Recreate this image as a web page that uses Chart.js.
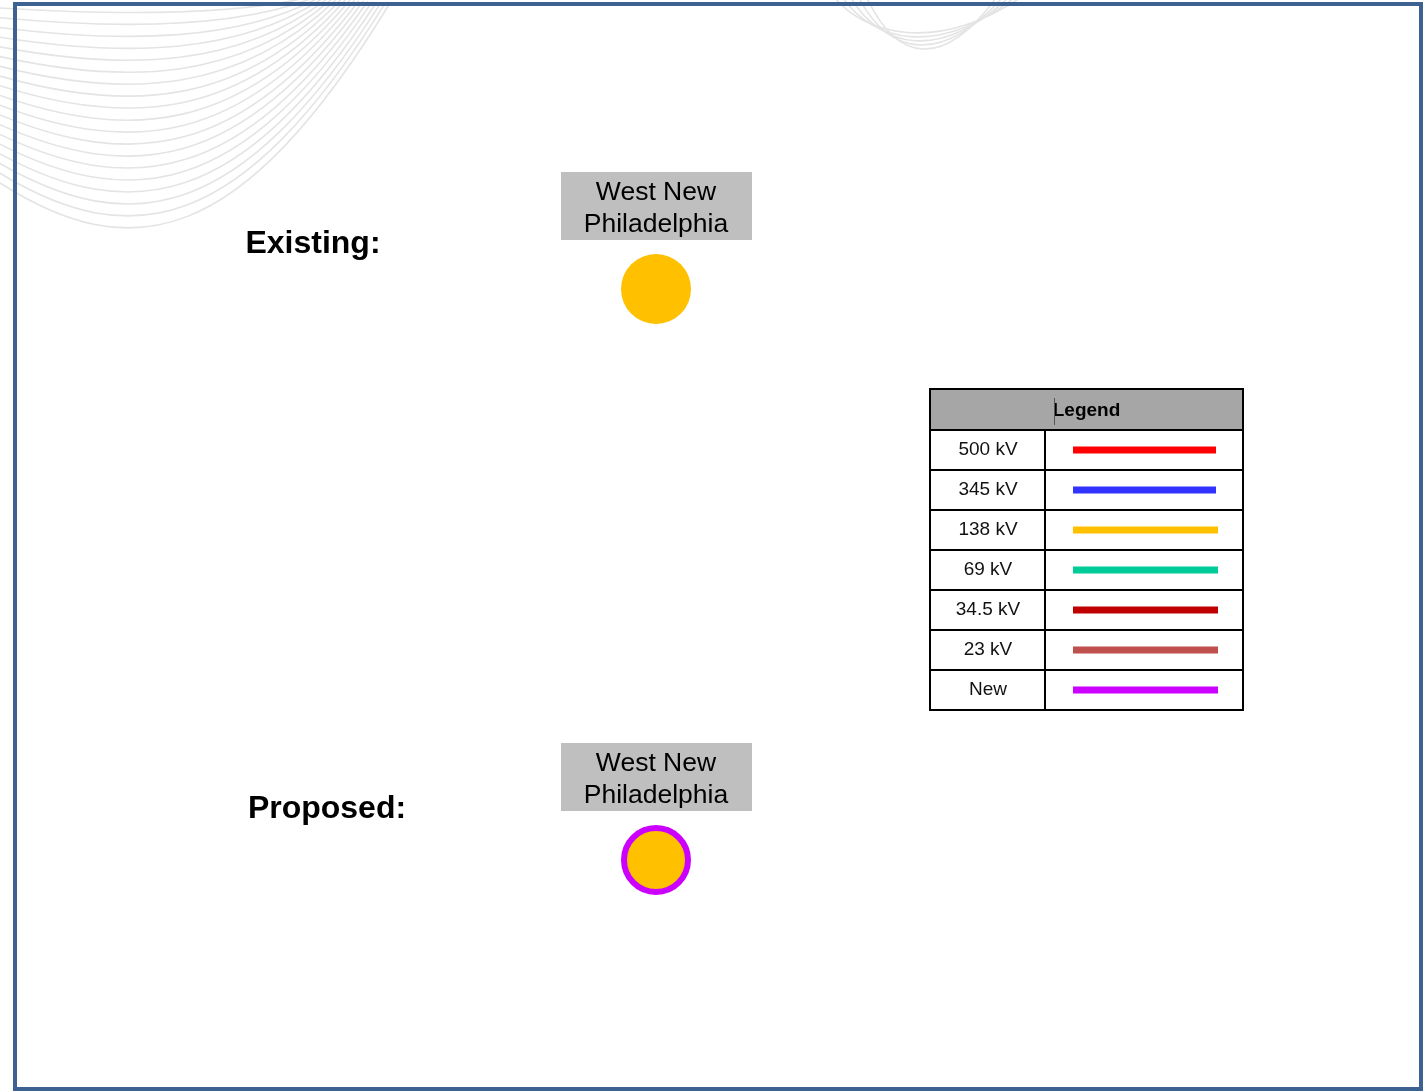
<!DOCTYPE html>
<html lang="en">
<head>
  <meta charset="UTF-8" />
  <title>West New Philadelphia</title>
  <script src="https://cdn.jsdelivr.net/npm/chart.js"></script>
  <style>
    html, body { margin: 0; padding: 0; background: #ffffff; }
    canvas { display: block; }
  </style>
</head>
<body>
  <canvas id="diagram" width="1424" height="1091"></canvas>

  <script>
    // station data (diagram units = page pixels)
    const stationNames = ["West New\nPhiladelphia", "West New\nPhiladelphia"];
    const stationX = [656, 656];
    const stationY = [289, 860];
    const sectionTitles = ["Existing:", "Proposed:"];
    const sectionTitleX = [313, 327];
    const sectionTitleY = [243, 808];

    // legend table
    const legendLabels = ["500 kV", "345 kV", "138 kV", "69 kV", "34.5 kV", "23 kV", "New"];
    const legendColors = ["#FF0000", "#3333FF", "#FFC000", "#00CC99", "#C00000", "#C0504D", "#CC00FF"];

    const frameColor = "#3D6191";
    const waveColor = "#E4E4E4";

    // background waves + blue frame
    const backdrop = {
      id: "backdrop",
      beforeDraw(chart) {
        const ctx = chart.ctx;
        const x = chart.scales.x, y = chart.scales.y;
        const px = v => x.getPixelForValue(v);
        const py = v => y.getPixelForValue(v);
        ctx.save();
        ctx.strokeStyle = waveColor;
        ctx.lineWidth = 1.6;
        // fan of curves in the top-left corner
        for (let i = 0; i < 19; i++) {
          const t = i / 18;
          ctx.beginPath();
          ctx.moveTo(px(0), py(8 + t * 175));
          ctx.bezierCurveTo(px(130), py(16 + t * 250), px(240), py(14 + t * 235), px(310 + t * 80), py(-3 + t * 6));
          ctx.stroke();
        }
        // bowls at the top center
        for (let i = 0; i < 5; i++) {
          ctx.beginPath();
          ctx.moveTo(px(835 + i * 8), py(-2));
          ctx.bezierCurveTo(px(865 + i * 8), py(34 + i * 7), px(935 + i * 2), py(54 + i * 4), px(1020 - i * 6), py(-2));
          ctx.stroke();
        }
        ctx.restore();
      },
      afterDraw(chart) {
        const ctx = chart.ctx;
        ctx.save();
        ctx.strokeStyle = frameColor;
        ctx.lineWidth = 4;
        ctx.strokeRect(15, 4, 1406, 1085);
        ctx.restore();
      }
    };

    // titles, station name boxes, legend table
    const annotations = {
      id: "annotations",
      afterDatasetsDraw(chart) {
        const ctx = chart.ctx;
        const x = chart.scales.x, y = chart.scales.y;
        const px = v => x.getPixelForValue(v);
        const py = v => y.getPixelForValue(v);
        ctx.save();

        // section titles
        ctx.fillStyle = "#000000";
        ctx.font = "bold 32px 'Liberation Sans', Arial, sans-serif";
        ctx.textAlign = "center";
        ctx.textBaseline = "middle";
        sectionTitles.forEach((t, i) => ctx.fillText(t, px(sectionTitleX[i]), py(sectionTitleY[i]) + 1));

        // name boxes above each station
        stationNames.forEach((name, i) => {
          const cx = px(stationX[i]);
          const top = py(stationY[i]) - 117;
          ctx.fillStyle = "#BFBFBF";
          ctx.fillRect(cx - 95, top, 191, 68);
          ctx.fillStyle = "#000000";
          ctx.font = "26.5px 'Liberation Sans', Arial, sans-serif";
          name.split("\n").forEach((line, j) => ctx.fillText(line, cx, top + 21 + j * 32));
        });

        // legend table
        const lx = 930, ly = 389, lw = 313, headH = 41, rowH = 40, colX = 1045;
        const tableH = headH + rowH * legendLabels.length;
        ctx.fillStyle = "#A6A6A6";
        ctx.fillRect(lx, ly, lw, headH);
        ctx.fillStyle = "#000000";
        ctx.font = "bold 19px 'Liberation Sans', Arial, sans-serif";
        ctx.fillText("Legend", lx + lw / 2, ly + headH / 2 + 1);
        ctx.strokeStyle = "#555555";
        ctx.lineWidth = 1;
        ctx.beginPath();
        ctx.moveTo(1054.5, ly + 9);
        ctx.lineTo(1054.5, ly + 36);
        ctx.stroke();

        ctx.font = "19px 'Liberation Sans', Arial, sans-serif";
        legendLabels.forEach((lab, i) => {
          const rowTop = ly + headH + i * rowH;
          const cy = rowTop + rowH / 2;
          ctx.fillStyle = "#111111";
          ctx.fillText(lab, 988, cy);
          ctx.strokeStyle = legendColors[i];
          ctx.lineWidth = 7;
          ctx.beginPath();
          ctx.moveTo(1073, cy);
          ctx.lineTo(i < 2 ? 1216 : 1218, cy);
          ctx.stroke();
        });

        ctx.strokeStyle = "#000000";
        ctx.lineWidth = 2;
        ctx.strokeRect(lx, ly, lw, tableH);
        ctx.beginPath();
        for (let i = 0; i < legendLabels.length; i++) {
          const yy = ly + headH + i * rowH;
          ctx.moveTo(lx, yy);
          ctx.lineTo(lx + lw, yy);
        }
        ctx.moveTo(colX, ly + headH);
        ctx.lineTo(colX, ly + tableH);
        ctx.stroke();

        ctx.restore();
      }
    };

    new Chart(document.getElementById("diagram"), {
      type: "scatter",
      data: {
        datasets: [
          {
            label: "Existing",
            data: [{ x: stationX[0], y: stationY[0] }],
            pointRadius: 35,
            pointBackgroundColor: "#FFC000",
            pointBorderWidth: 0,
            pointBorderColor: "#FFC000"
          },
          {
            label: "Proposed",
            data: [{ x: stationX[1], y: stationY[1] }],
            pointRadius: 32,
            pointBackgroundColor: "#FFC000",
            pointBorderWidth: 6,
            pointBorderColor: "#CC00FF"
          }
        ]
      },
      options: {
        responsive: false,
        animation: false,
        layout: { padding: 0, autoPadding: false },
        scales: {
          x: { type: "linear", min: 0, max: 1424, display: false },
          y: { type: "linear", min: 0, max: 1091, reverse: true, display: false }
        },
        plugins: {
          legend: { display: false },
          tooltip: { enabled: false }
        }
      },
      plugins: [backdrop, annotations]
    });
  </script>
</body>
</html>
